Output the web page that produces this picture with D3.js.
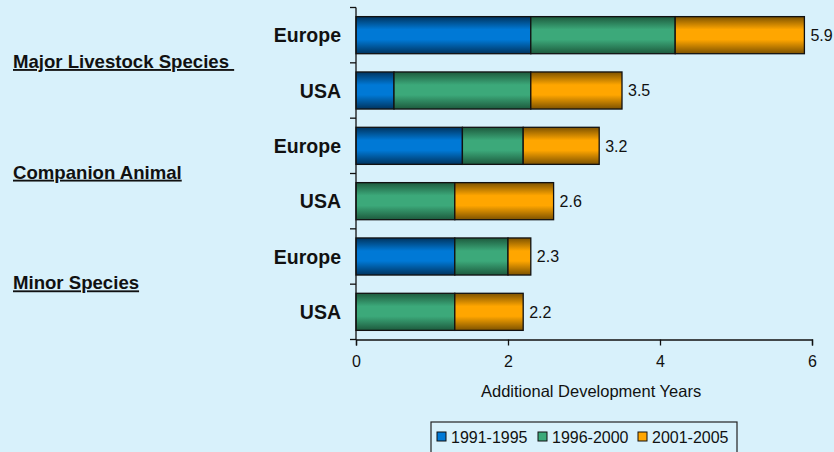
<!DOCTYPE html>
<html>
<head>
<meta charset="utf-8">
<script src="https://cdn.jsdelivr.net/npm/d3@7"></script>
<style>
  html, body { margin: 0; padding: 0; background: #d8f1fb; }
  svg { display: block; font-family: "Liberation Sans", Arial, sans-serif; }
</style>
</head>
<body>
<svg id="chart" width="834" height="452"></svg>
<script>
// rows, top to bottom
const rows = ['ML-Europe', 'ML-USA', 'CA-Europe', 'CA-USA', 'MS-Europe', 'MS-USA'];
const rowLabels = ['Europe', 'USA', 'Europe', 'USA', 'Europe', 'USA'];
const groups = ['Major Livestock Species ', 'Companion Animal', 'Minor Species'];
const series = ['1991-1995', '1996-2000', '2001-2005'];
const p1991 = [2.3, 0.5, 1.4, 0, 1.3, 0];
const p1996 = [1.9, 1.8, 0.8, 1.3, 0.7, 1.3];
const p2001 = [1.7, 1.2, 1.0, 1.3, 0.3, 0.9];
const totals = ['5.9', '3.5', '3.2', '2.6', '2.3', '2.2'];
const xTicks = [0, 2, 4, 6];

const svg = d3.select('#chart');
const colors = [
    { dark: '#00345f', mid: '#0079d6' },
    { dark: '#1d5a3d', mid: '#3ca97a' },
    { dark: '#7d5200', mid: '#ffa600' }
];

// vertical shading gradients for the bars
const defs = svg.append('defs');
colors.forEach((c, i) => {
    const g = defs.append('linearGradient')
        .attr('id', 'grad' + i)
        .attr('x1', 0).attr('y1', 0).attr('x2', 0).attr('y2', 1);
    g.append('stop').attr('offset', '0%').attr('stop-color', c.dark);
    g.append('stop').attr('offset', '35%').attr('stop-color', c.mid);
    g.append('stop').attr('offset', '62%').attr('stop-color', c.mid);
    g.append('stop').attr('offset', '100%').attr('stop-color', c.dark);
});
defs.append('clipPath').attr('id', 'titleClip')
    .append('rect').attr('x', 0).attr('y', 370).attr('width', 702).attr('height', 40);

const x = d3.scaleLinear().domain([0, 6]).range([356, 812]);
const y = d3.scaleBand().domain(rows).range([7.5, 339.5]).paddingInner(0.33).paddingOuter(0.165);

// stack the three periods
const table = rows.map((r, i) => ({ row: r, s0: p1991[i], s1: p1996[i], s2: p2001[i] }));
const stacked = d3.stack().keys(['s0', 's1', 's2'])(table);

stacked.forEach((layer, li) => {
    svg.append('g')
        .selectAll('rect')
        .data(layer.filter(d => d[1] - d[0] > 0))
        .enter().append('rect')
        .attr('x', d => x(d[0]))
        .attr('y', d => y(d.data.row))
        .attr('width', d => x(d[1]) - x(d[0]))
        .attr('height', y.bandwidth())
        .attr('fill', `url(#grad${li})`)
        .attr('stroke', '#111')
        .attr('stroke-width', 1.3);
});

// total labels
svg.append('g')
    .selectAll('text')
    .data(table)
    .enter().append('text')
    .attr('x', d => x(d.s0 + d.s1 + d.s2) + 6)
    .attr('y', d => y(d.row) + y.bandwidth() / 2)
    .attr('dy', '0.36em')
    .attr('font-size', '16px')
    .attr('fill', '#111')
    .text((d, i) => totals[i]);

// y axis line with ticks between rows
const yAxisG = svg.append('g').attr('stroke', '#111').attr('stroke-width', 1.3);
yAxisG.append('line')
    .attr('x1', x(0)).attr('x2', x(0))
    .attr('y1', y.range()[0]).attr('y2', y.range()[1]);
const bounds = d3.range(rows.length + 1).map(i => y.range()[0] + i * y.step());
yAxisG.selectAll('.yt')
    .data(bounds)
    .enter().append('line')
    .attr('x1', x(0) - 6).attr('x2', x(0))
    .attr('y1', d => d).attr('y2', d => d);

svg.append('g')
    .selectAll('text')
    .data(rows)
    .enter().append('text')
    .attr('x', x(0) - 15)
    .attr('y', d => y(d) + y.bandwidth() / 2)
    .attr('dy', '0.36em')
    .attr('text-anchor', 'end')
    .attr('font-size', '19.5px')
    .attr('font-weight', 'bold')
    .attr('fill', '#111')
    .text((d, i) => rowLabels[i]);

// x axis
const xAxis = svg.append('g')
    .attr('transform', `translate(0,${y.range()[1]})`)
    .call(d3.axisBottom(x).tickValues(xTicks).tickSize(6).tickPadding(10).tickFormat(d3.format('d')));
xAxis.select('.domain').attr('stroke', '#111').attr('stroke-width', 1.3);
xAxis.selectAll('.tick line').attr('stroke', '#111').attr('stroke-width', 1.3);
xAxis.selectAll('.tick text').attr('font-size', '16px').attr('fill', '#111')
    .attr('font-family', '"Liberation Sans", Arial, sans-serif');

svg.append('text')
    .attr('x', 481)
    .attr('y', 391)
    .attr('dy', '0.36em')
    .attr('font-size', '16.5px')
    .attr('fill', '#111')
    .attr('clip-path', 'url(#titleClip)')
    .text('Additional Development Years');

// group labels, underlined
svg.append('g')
    .selectAll('text')
    .data(groups)
    .enter().append('text')
    .attr('x', 13)
    .attr('y', (d, i) => y.range()[0] + (2 * i + 1) * y.step() - 1.5)
    .attr('dy', '0.36em')
    .attr('font-size', '18.6px')
    .attr('font-weight', 'bold')
    .attr('text-decoration', 'underline')
    .attr('fill', '#111')
    .style('white-space', 'pre')
    .text(d => d);

// legend
const legend = svg.append('g');
legend.append('rect')
    .attr('x', 431).attr('y', 422)
    .attr('width', 306).attr('height', 40)
    .attr('fill', '#d8f1fb')
    .attr('stroke', '#222').attr('stroke-width', 1.2);
const legendX = [437, 538, 638];
series.forEach((s, i) => {
    legend.append('rect')
        .attr('x', legendX[i]).attr('y', 432)
        .attr('width', 9).attr('height', 9)
        .attr('fill', colors[i].mid)
        .attr('stroke', '#111').attr('stroke-width', 1);
    legend.append('text')
        .attr('x', legendX[i] + 14).attr('y', 437)
        .attr('dy', '0.36em')
        .attr('font-size', '16px')
        .attr('fill', '#111')
        .text(s);
});
</script>
</body>
</html>
